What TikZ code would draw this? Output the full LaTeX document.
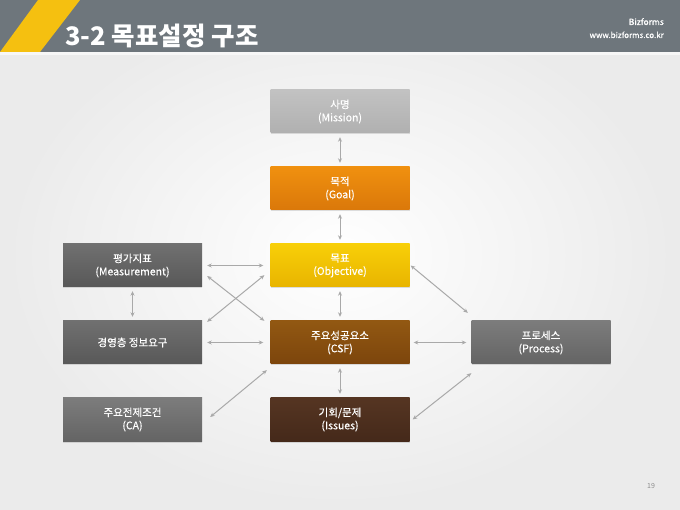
\documentclass[tikz,border=0pt]{standalone}
\usepackage{fontspec}
\setmainfont{Noto Sans CJK KR}
\newfontfamily\kr{Noto Sans CJK KR}
\newfontfamily\krm[FakeBold=0.5]{Noto Sans CJK KR}
\usetikzlibrary{arrows.meta,shadows}
\definecolor{hdr}{HTML}{6E767C}
\definecolor{ylw}{HTML}{F5C010}
\definecolor{arr}{HTML}{A9A9A9}
\definecolor{misT}{HTML}{C2C2C2}\definecolor{misB}{HTML}{B0B0B0}
\definecolor{golT}{HTML}{F0900F}\definecolor{golB}{HTML}{DA780A}
\definecolor{objT}{HTML}{F8CF08}\definecolor{objB}{HTML}{E8B400}
\definecolor{csfT}{HTML}{925812}\definecolor{csfB}{HTML}{7C450C}
\definecolor{issT}{HTML}{553522}\definecolor{issB}{HTML}{45291A}
\definecolor{dgT}{HTML}{707070}\definecolor{dgB}{HTML}{585858}
\definecolor{mgT}{HTML}{7C7C7C}\definecolor{mgB}{HTML}{646464}
\tikzset{
  box/.style={minimum width=139pt,minimum height=43pt,inner sep=0pt,align=center,
    text=white,font=\krm\fontsize{10.5}{13}\selectfont,
    drop shadow={shadow xshift=0pt,shadow yshift=-1.5pt,opacity=0.25}},
  lnk/.style={draw=arr,line width=1pt,{Stealth[length=4.5pt,width=4pt]}-{Stealth[length=4.5pt,width=4pt]}},
}
\begin{document}
\begin{tikzpicture}[x=1pt,y=-1pt]
\useasboundingbox (0,0) rectangle (680,510);
% background
\shade[inner color=white,outer color=black!8] (0,0) rectangle (680,510);
\fill[hdr] (0,0) rectangle (680,52);
\fill[black!3] (0,52) rectangle (680,55);
\fill[ylw] (38,0) -- (80,0) -- (40,52) -- (0,52) -- cycle;
\node[anchor=base west,text=white,font=\kr\bfseries\fontsize{25.5}{28}\selectfont,inner sep=0pt] (title) at (65,46) {3-2 목표설정 구조};
\node[anchor=base east,text=white,font=\krm\fontsize{8.5}{10}\selectfont,inner sep=0pt] (brand) at (664,25) {Bizforms};
\node[anchor=base east,text=white,font=\krm\fontsize{8}{10}\selectfont,inner sep=0pt] (url) at (664,38) {www.bizforms.co.kr};
\node[text=black!45,font=\kr\fontsize{7}{8}\selectfont,inner sep=0pt] (pg) at (651,486) {19};
% boxes
\node[box,top color=misT,bottom color=misB] (mission) at (340,111.5) {사명\\(Mission)};
\node[box,top color=golT,bottom color=golB] (goal) at (340,188.5) {목적\\(Goal)};
\node[box,top color=objT,bottom color=objB] (obj) at (340,265.5) {목표\\(Objective)};
\node[box,top color=csfT,bottom color=csfB] (csf) at (340,342.5) {주요성공요소\\(CSF)};
\node[box,top color=issT,bottom color=issB] (iss) at (340,419.5) {기회/문제\\(Issues)};
\node[box,top color=dgT,bottom color=dgB] (meas) at (132.5,265.5) {평가지표\\(Measurement)};
\node[box,top color=dgT,bottom color=dgB] (mgmt) at (132.5,342.5) {경영층 정보요구};
\node[box,top color=mgT,bottom color=mgB] (ca) at (132.5,419.5) {주요전제조건\\(CA)};
\node[box,top color=mgT,bottom color=mgB] (proc) at (541,342.5) {프로세스\\(Process)};
% connectors
\draw[lnk] ([yshift=-4pt]mission.south) -- ([yshift=4pt]goal.north);
\draw[lnk] ([yshift=-4pt]goal.south) -- ([yshift=4pt]obj.north);
\draw[lnk] ([yshift=-4pt]obj.south) -- ([yshift=4pt]csf.north);
\draw[lnk] ([yshift=-4pt]csf.south) -- ([yshift=4pt]iss.north);
\draw[lnk] ([yshift=-4pt]meas.south) -- ([yshift=4pt]mgmt.north);
\draw[lnk] ([xshift=5pt]meas.east) -- ([xshift=-7pt]obj.west);
\draw[lnk] ([xshift=5pt]mgmt.east) -- ([xshift=-7pt]csf.west);
\draw[lnk] ([xshift=5pt,yshift=-10.5pt]meas.east) -- ([xshift=-6pt]csf.north west);
\draw[lnk] ([xshift=5pt,yshift=-1pt]mgmt.north east) -- ([xshift=-6pt,yshift=12pt]obj.south west);
\draw[lnk] ([xshift=8pt,yshift=2.5pt]ca.east) -- ([xshift=-3.5pt,yshift=-6pt]csf.south west);
\draw[lnk] ([xshift=1pt]obj.east) -- ([xshift=-3.5pt,yshift=8pt]proc.north west);
\draw[lnk] ([xshift=4pt]csf.east) -- ([xshift=-5pt]proc.west);
\draw[lnk] ([xshift=3pt]iss.east) -- ([xshift=0pt,yshift=-9pt]proc.south west);
\end{tikzpicture}
\end{document}
